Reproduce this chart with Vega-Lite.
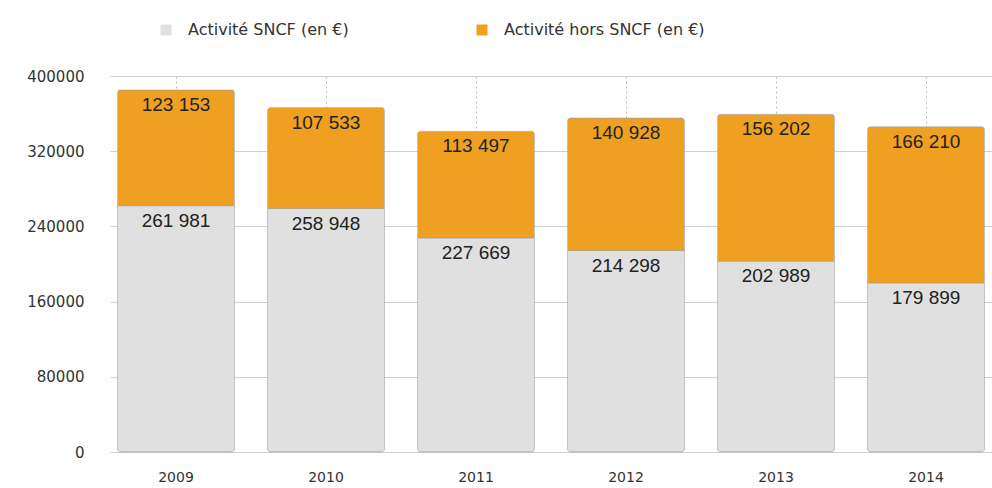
{
  "$schema": "https://vega.github.io/schema/vega-lite/v6.json",
  "width": 882,
  "height": 376,
  "padding": {"left": 110, "top": 76, "right": 0, "bottom": 36},
  "autosize": {"type": "none"},
  "background": "white",
  "config": {
    "view": {"stroke": null},
    "font": "DejaVu Sans",
    "locale": {"number": {"decimal": ",", "thousands": " ", "grouping": [3], "currency": ["", " €"]}}
  },
  "data": {
    "values": [
      {"year": "2009", "serie": "Activité SNCF (en €)", "order": 1, "value": 261981},
      {"year": "2009", "serie": "Activité hors SNCF (en €)", "order": 2, "value": 123153},
      {"year": "2010", "serie": "Activité SNCF (en €)", "order": 1, "value": 258948},
      {"year": "2010", "serie": "Activité hors SNCF (en €)", "order": 2, "value": 107533},
      {"year": "2011", "serie": "Activité SNCF (en €)", "order": 1, "value": 227669},
      {"year": "2011", "serie": "Activité hors SNCF (en €)", "order": 2, "value": 113497},
      {"year": "2012", "serie": "Activité SNCF (en €)", "order": 1, "value": 214298},
      {"year": "2012", "serie": "Activité hors SNCF (en €)", "order": 2, "value": 140928},
      {"year": "2013", "serie": "Activité SNCF (en €)", "order": 1, "value": 202989},
      {"year": "2013", "serie": "Activité hors SNCF (en €)", "order": 2, "value": 156202},
      {"year": "2014", "serie": "Activité SNCF (en €)", "order": 1, "value": 179899},
      {"year": "2014", "serie": "Activité hors SNCF (en €)", "order": 2, "value": 166210}
    ]
  },
  "encoding": {
    "x": {
      "field": "year", "type": "ordinal",
      "scale": {"paddingInner": 0.22, "paddingOuter": 0.05},
      "axis": {"title": null, "labelAngle": 0, "domain": false, "ticks": false, "labelFontSize": 14, "labelColor": "#333", "labelPadding": 18, "grid": true, "gridDash": [2, 3], "gridColor": "#bbb"}
    },
    "y": {
      "field": "value", "type": "quantitative", "stack": "zero",
      "scale": {"domain": [0, 400000]},
      "axis": {"title": null, "values": [0, 80000, 160000, 240000, 320000, 400000], "format": "d", "domain": false, "ticks": false, "labelFontSize": 15, "labelColor": "#333", "labelPadding": 26, "gridColor": "#d0d0d0"}
    },
    "order": {"field": "order", "type": "quantitative"}
  },
  "layer": [
    {
      "mark": {"type": "bar", "cornerRadius": 3, "stroke": "#9a9a9a", "strokeWidth": 0.5},
      "encoding": {
        "color": {
          "field": "serie", "type": "nominal",
          "scale": {"domain": ["Activité SNCF (en €)", "Activité hors SNCF (en €)"], "range": ["#e0e0e0", "#f0a020"]},
          "legend": {
            "title": null, "orient": "none", "legendX": 48, "legendY": -54, "direction": "horizontal",
            "symbolType": "square", "symbolSize": 120, "symbolStrokeWidth": 0,
            "labelFontSize": 16, "labelColor": "#333", "labelLimit": 400, "columnPadding": 125, "labelOffset": 14
          }
        }
      }
    },
    {
      "mark": {"type": "text", "baseline": "top", "dy": 6, "fontSize": 19, "font": "Liberation Sans", "color": "#222"},
      "encoding": {
        "text": {"field": "value", "type": "quantitative", "format": ",d"}
      }
    }
  ]
}
